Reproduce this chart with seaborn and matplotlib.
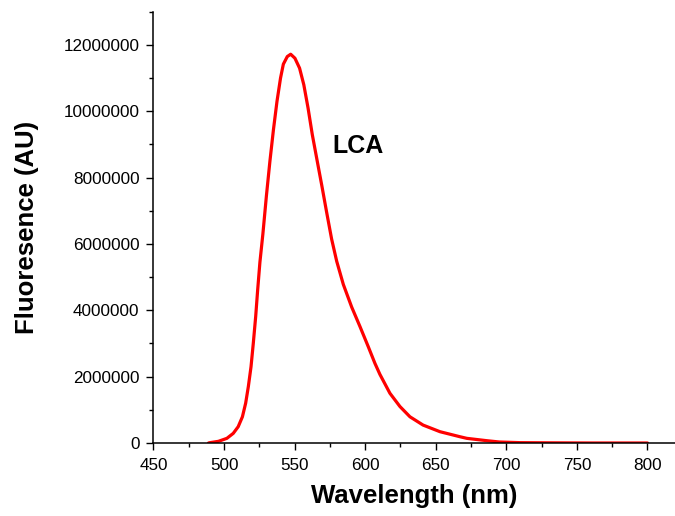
import matplotlib
matplotlib.use("Agg")
import matplotlib.pyplot as plt
from matplotlib.ticker import MultipleLocator, FuncFormatter
import pandas as pd
import seaborn as sns

# Emission spectrum of LCA
wavelength = [489, 490, 496, 502, 506.5, 510, 513, 515.3, 517.2, 519.1, 520.7,
              522.4, 523.8, 525.4, 527.5, 530, 532.5, 535, 537.5, 540, 542,
              544.8, 547.2, 550.2, 553.5, 556.5, 559.5, 562.5, 566, 569.3,
              572.7, 576.2, 579.8, 584.5, 590.4, 596.3, 602.2, 606.9, 610.4,
              617.5, 624.6, 631.7, 641, 653, 667, 672, 686, 695, 710, 730,
              760, 800]
intensity = [0.0, 0.01e6, 0.05e6, 0.14e6, 0.29e6, 0.49e6, 0.79e6, 1.2e6, 1.7e6,
             2.3e6, 3.0e6, 3.81e6, 4.61e6, 5.45e6, 6.3e6, 7.45e6, 8.5e6, 9.45e6,
             10.3e6, 11.0e6, 11.42e6, 11.65e6, 11.72e6, 11.6e6, 11.3e6,
             10.8e6, 10.1e6, 9.3e6, 8.5e6, 7.75e6, 6.95e6, 6.15e6, 5.48e6,
             4.78e6, 4.1e6, 3.51e6, 2.9e6, 2.4e6, 2.07e6, 1.5e6, 1.1e6,
             0.79e6, 0.54e6, 0.34e6, 0.19e6, 0.14e6, 0.07e6, 0.03e6, 0.01e6,
             0.005e6, 0.0, 0.0]
x_ticks = [450, 500, 550, 600, 650, 700, 750, 800]
y_ticks = [0, 2000000, 4000000, 6000000, 8000000, 10000000, 12000000]
curve_label = "LCA"

df = pd.DataFrame({"Wavelength": wavelength, "Intensity": intensity})

sns.set_style("ticks")
plt.rcParams["font.family"] = ["Liberation Sans", "DejaVu Sans"]
plt.rcParams["text.color"] = "black"
plt.rcParams["axes.labelcolor"] = "black"

fig = plt.figure(figsize=(6.75, 5.16), dpi=100)
ax = fig.add_axes([0.2274, 0.1415, 0.7726, 0.8357])

sns.lineplot(data=df, x="Wavelength", y="Intensity", ax=ax,
             color="#ff0000", linewidth=2.3, estimator=None, sort=True)
ax.lines[0].set_solid_joinstyle("round")

ax.set_xlim(450, 819.5)
ax.set_ylim(0, 13000000)
ax.set_xticks(x_ticks)
ax.set_yticks(y_ticks)
ax.xaxis.set_minor_locator(MultipleLocator(25))
ax.yaxis.set_minor_locator(MultipleLocator(1000000))
ax.yaxis.set_major_formatter(FuncFormatter(lambda v, p: f"{int(round(v))}"))

for side in ("top", "right"):
    ax.spines[side].set_visible(False)
for side in ("left", "bottom"):
    ax.spines[side].set_linewidth(1.1)
    ax.spines[side].set_color("black")

ax.tick_params(axis="both", which="major", direction="out", length=5, width=1.0,
               labelsize=12.3, colors="black")
ax.tick_params(axis="y", which="major", pad=5)
ax.tick_params(axis="x", which="major", pad=6)
ax.tick_params(axis="both", which="minor", direction="out", length=3, width=1.0,
               colors="black")

ax.set_xlabel("Wavelength (nm)", fontsize=18.5, fontweight="bold", labelpad=8)
ax.set_ylabel("Fluoresence (AU)", fontsize=18.5, fontweight="bold", labelpad=18)

ax.text(577, 8.95e6, curve_label, fontsize=18, fontweight="bold",
        ha="left", va="center", color="black")

fig.savefig("out.png", dpi=100)
